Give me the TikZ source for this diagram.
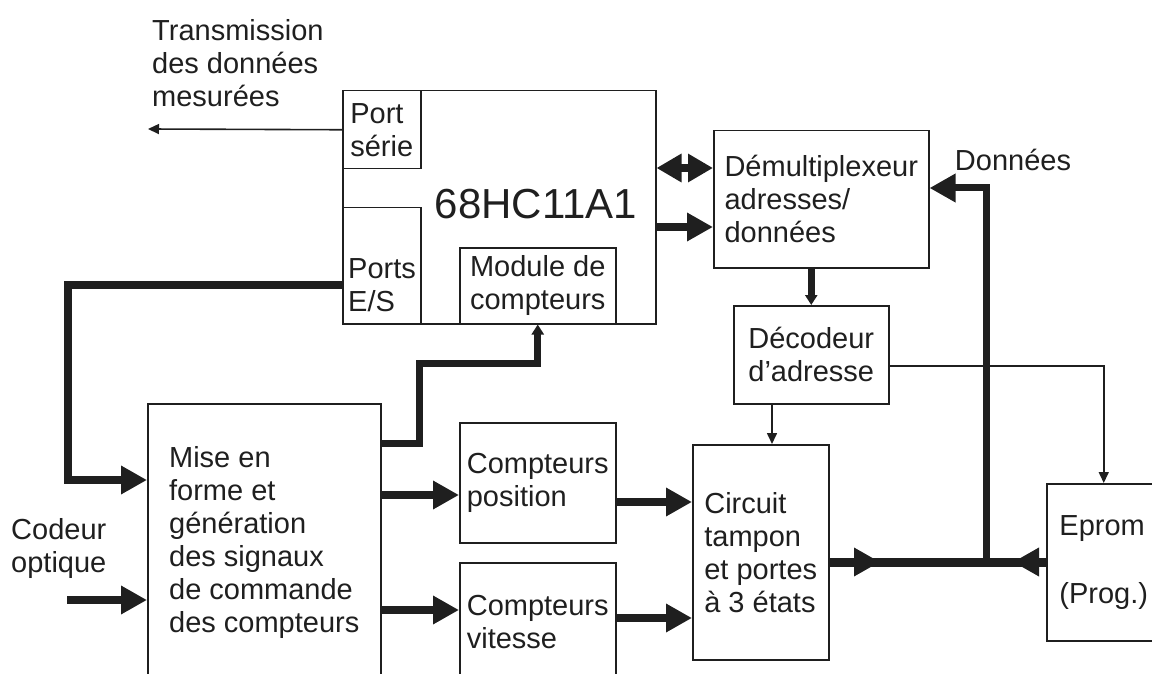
\documentclass[tikz,border=0pt]{standalone}
\usepackage{fontspec}
\setmainfont{Liberation Sans}
\usetikzlibrary{arrows.meta}

\begin{document}
\begin{tikzpicture}[x=1pt,y=-1pt,color=black!88,
		txt/.style={font=\fontsize{29}{33}\selectfont, inner sep=0pt},
		box/.style={txt, draw, line width=1.5pt, anchor=north west, align=left},
		sig/.style={line width=1.6pt, -{Triangle[length=11pt,width=10pt]}},
		bus/.style={line width=8pt, -{Triangle[length=26pt,width=27pt]}},
		busb/.style={line width=7pt, -{Triangle[length=10pt,width=12pt]}}]
	\useasboundingbox (0,0) rectangle (1152,674);
	\node[box, minimum width=313pt, minimum height=233pt] (mcu) at (342,90) {};
	\node[box, minimum width=78pt, minimum height=78pt] (port) at (342,90) {Port\\série};
	\node[box, minimum width=78pt, minimum height=116pt] (ports) at (342,207) {};
	\node[box, minimum width=156pt, minimum height=76pt] (module) at (459,247) {Module de\\compteurs};
	\node[box, minimum width=215pt, minimum height=137pt] (demux) at (713,130) {Démultiplexeur\\adresses/\\données};
	\node[box, minimum width=155pt, minimum height=98pt, align=center] (decod) at (733,305) {Décodeur\\d’adresse};
	\node[box, minimum width=233pt, minimum height=277pt] (mise) at (147,403) {Mise en\\forme et\\génération\\des signaux\\de commande\\des compteurs};
	\node[box, minimum width=156pt, minimum height=120pt] (pos) at (459,422) {Compteurs\\position};
	\node[box, minimum width=156pt, minimum height=118pt] (vit) at (459,562) {Compteurs\\vitesse};
	\node[box, minimum width=136pt, minimum height=215pt] (circ) at (692,444) {Circuit\\tampon\\et portes\\à 3 états};
	\node[box, minimum width=114pt, minimum height=157pt] (eprom) at (1046,483) {Eprom\\[35pt](Prog.)};

	\node[txt, anchor=north west, align=left] (trans) at (152,19) {Transmission\\des données\\mesurées};
	\node[txt, font=\fontsize{42}{48}\selectfont] (chip) at (536,204) {68HC11A1};
	\node[txt, align=left] (portsio) at (382,285) {Ports\\E/S};
	\node[txt] (data) at (1013,160) {Données};
	\node[txt, anchor=north west, align=left] (codeur) at (11,518) {Codeur\\optique};

	\coordinate (txout) at (148,129);
	\coordinate (junc) at (986,562);
	\coordinate (busin) at (880,562);
	\coordinate (busep) at (1013,562);
	\coordinate (bend) at (68,480);
	\coordinate (coin) at (67,600);
	\coordinate (kink) at (419,363);

	\draw[sig] (port.west) -- (txout);
	\draw[line width=8pt, {Triangle[length=25pt,width=27pt]}-{Triangle[length=25pt,width=27pt]}] (mcu.east |- 0,168) -- (demux.west |- 0,168);
	\draw[bus] (mcu.east |- 0,227) -- (demux.west |- 0,227);
	\draw[busb] (decod.north |- demux.south) -- (decod.north);
	\draw[sig] (decod.south -| 772,0) -- (circ.north -| 772,0);
	\draw[sig] (decod.east |- 0,366) -| (eprom.north);
	\draw[bus, line width=7pt] (junc) |- (demux.east |- 0,188);
	\draw[line width=9pt] (circ.east |- junc) -- (eprom.west |- junc);
	\draw[bus] (circ.east |- junc) -- (busin);
	\draw[bus] (eprom.west |- junc) -- (busep);
	\draw[bus] (coin) -- (mise.west |- coin);
	\draw[bus] (ports.west |- 0,285) -| (bend) -- (mise.west |- bend);
	\draw[bus] (mise.east |- 0,495) -- (pos.west |- 0,495);
	\draw[bus] (mise.east |- 0,610) -- (vit.west |- 0,610);
	\draw[bus] (pos.east |- 0,502) -- (circ.west |- 0,502);
	\draw[bus] (vit.east |- 0,618) -- (circ.west |- 0,618);
	\draw[busb] (mise.east |- 0,443) -| (kink) -| (module.south);
\end{tikzpicture}
\end{document}
